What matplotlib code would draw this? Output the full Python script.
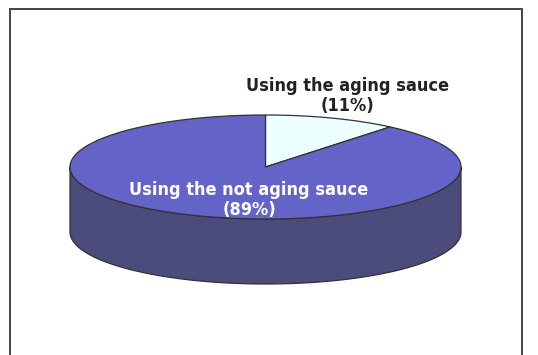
"""
3D pie: aging sauce usage
"""

import matplotlib.pyplot as plt
import numpy as np
from matplotlib.patches import Polygon

# 数据
labels = ['Using the aging sauce', 'Using the not aging sauce']
shares = [11, 89]
top_colors = ['#EEFFFF', '#6464C8']
side_colors = ['#B0C4C4', '#4B4B7C']
text_colors = ['#222222', 'white']

fig = plt.figure(figsize=(5.38, 3.55), dpi=100)
ax = fig.add_axes([0, 0, 1, 1])
ax.set_xlim(0, 538)
ax.set_ylim(355, 0)
ax.axis('off')

# 椭圆几何（像素坐标）
cx, cy = 265.5, 167
rx, ry = 195.5, 52
depth = 65
edge = '#333333'


def pt(t, dy=0):
    # t: 从12点方向顺时针的角度(弧度)
    return cx + rx * np.sin(t), cy - ry * np.cos(t) + dy


fracs = np.array(shares, dtype=float) / sum(shares)
bounds = np.concatenate([[0], np.cumsum(fracs)]) * 2 * np.pi

# 侧面（只画前半部分 t in [pi/2, 3pi/2]）
for i in range(len(shares)):
    a0 = max(bounds[i], np.pi / 2)
    a1 = min(bounds[i + 1], 3 * np.pi / 2)
    if a1 <= a0:
        continue
    t = np.linspace(a0, a1, 200)
    upper = [pt(v) for v in t]
    lower = [pt(v, depth) for v in t[::-1]]
    ax.add_patch(Polygon(upper + lower, closed=True, facecolor=side_colors[i],
                         edgecolor=edge, linewidth=0.9, joinstyle='round'))

# 顶面
for i in range(len(shares)):
    t = np.linspace(bounds[i], bounds[i + 1], 300)
    verts = [(cx, cy)] + [pt(v) for v in t]
    ax.add_patch(Polygon(verts, closed=True, facecolor=top_colors[i],
                         edgecolor=edge, linewidth=0.9, joinstyle='round'))

# 标签
label_pos = [(348, 96), (249, 200)]
for lab, s, (x, y), c in zip(labels, shares, label_pos, text_colors):
    ax.text(x, y, f'{lab}\n({s}%)', ha='center', va='center', color=c,
            fontsize=13, fontweight='bold', fontstretch='condensed',
            family='DejaVu Sans', linespacing=1.2)

# 外框
ax.plot([10, 10, 522, 522], [360, 9, 9, 360], color='#444444', lw=1.4,
        solid_joinstyle='miter')

fig.savefig('out.png', dpi=100, facecolor='white')
